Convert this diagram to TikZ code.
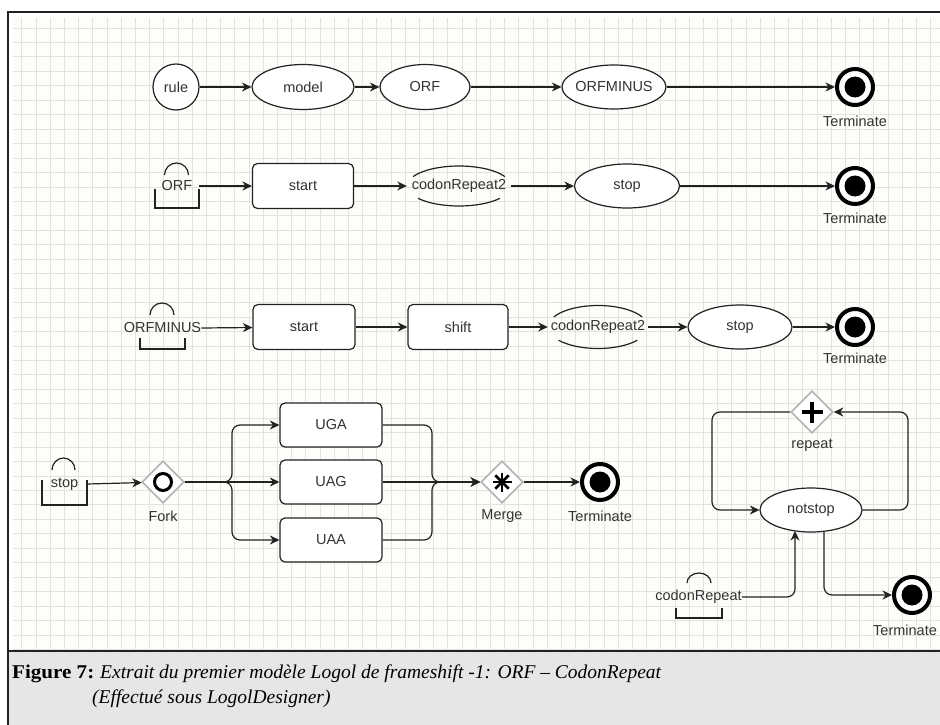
\documentclass[tikz,border=0pt]{standalone}
\usepackage{fontspec}
\setmainfont{Liberation Serif}
\newfontfamily\dsans{Liberation Sans}
\usetikzlibrary{arrows.meta,shapes.geometric}
\definecolor{gridc}{HTML}{E2E2DE}
\definecolor{gridbg}{HTML}{FDFDFA}
\definecolor{txt}{HTML}{333333}
\definecolor{capbg}{HTML}{E6E6E6}
\definecolor{lnc}{HTML}{222222}
\begin{document}
\begin{tikzpicture}[x=1pt,y=-1pt,
  lab/.style={font=\dsans\fontsize{14.5}{16}\selectfont, text=txt},
  ell/.style={ellipse, draw=lnc, line width=1.2pt, fill=white, minimum width=#1, minimum height=45pt, inner sep=0pt, lab},
  box/.style={rectangle, draw=lnc, line width=1.2pt, rounded corners=5pt, fill=white, minimum width=101pt, minimum height=45pt, inner sep=0pt, lab},
  arr/.style={draw=lnc, line width=1.2pt, -{Stealth[length=9.5pt,width=9pt,inset=3pt]}},
  ln/.style={draw=lnc, line width=1.2pt},
  term/.style={circle, draw=black, line width=4pt, fill=white, minimum size=36pt, inner sep=0pt,
     path picture={\fill[black] (path picture bounding box.center) circle (10.5pt);}},
  gate/.style={diamond, draw=black!30, line width=1.6pt, fill=white, minimum size=42pt, inner sep=0pt},
  callt/.style={lab, minimum width=#1, inner sep=0pt, minimum height=14pt},
  ghost/.style={ellipse, minimum width=#1, minimum height=42pt, inner sep=0pt},
  capf/.style={inner sep=0pt, font=\fontsize{19.5}{22}\selectfont},
]
\useasboundingbox (0,0) rectangle (940,725);
% background, grid, frame
\fill[white] (0,0) rectangle (940,725);
\fill[gridbg] (13,18) rectangle (940,650);
\foreach \i in {0,...,65} \draw[gridc, line width=0.8pt] ({21.7+\i*14.2},18) -- ({21.7+\i*14.2},650);
\foreach \j in {0,...,43} \draw[gridc, line width=0.8pt] (13,{28+\j*14.45}) -- (940,{28+\j*14.45});
\fill[capbg] (8,651) rectangle (940,725);
\draw[lnc, line width=1.5pt] (940,12) -- (8,12) -- (8,725);
\draw[lnc, line width=1.5pt] (8,651) -- (940,651);

% ---------- Row 1
\node[circle, draw=lnc, line width=1.2pt, fill=white, minimum size=46pt, inner sep=0pt, lab] (rule) at (176,87) {rule};
\node[ell=102pt] (model) at (303,87) {model};
\node[ell=90pt] (orf) at (425,87) {ORF};
\node[ell=104pt, minimum height=44pt, inner xsep=-6pt] (orfm) at (614,87) {ORFMINUS};
\node[term] (t1) at (855,87) {};
\node[lab] (t1l) at (855,121) {Terminate};
\draw[arr] (rule) -- (model);
\draw[arr] (model) -- (orf);
\draw[arr] (orf) -- (orfm);
\draw[arr] (orfm) -- (t1);

% ---------- Row 2
\draw[ln] (164.5,175) arc[start angle=180, end angle=360, x radius=12, y radius=12];
\draw[ln] (155,189) -- (155,208) -- (199,208) -- (199,189);
\node[callt=44pt] (orfc) at (177,186) {ORF};
\node[box] (start1) at (303,186) {start};
\node[ghost=104pt] (cr1) at (459,186) {};
\node[lab] (cr1l) at (cr1) {codonRepeat2};
\draw[ln] (cr1.center) ++(208:52 and 20) arc[start angle=208, end angle=332, x radius=52, y radius=20];
\draw[ln] (cr1.center) ++(38:52 and 20) arc[start angle=38, end angle=142, x radius=52, y radius=20];
\node[ell=105pt, minimum height=44pt] (stop1) at (627,186) {stop};
\node[term] (t2) at (855,186) {};
\node[lab] (t2l) at (855,218) {Terminate};
\draw[arr] (orfc.east) -- (start1);
\draw[arr] (start1) -- (cr1.west);
\draw[arr] (cr1.east) -- (stop1);
\draw[arr] (stop1) -- (t2);

% ---------- Row 3
\draw[ln] (150,315) arc[start angle=180, end angle=360, x radius=12, y radius=12];
\draw[ln] (140,338) -- (140,349) -- (185,349) -- (185,338);
\node[callt=45pt] (orfmc) at (162.5,328) {ORFMINUS};
\node[box, minimum width=102pt] (start2) at (304,327) {start};
\node[box, minimum width=100pt] (shift) at (458,327) {shift};
\node[ghost=100pt] (cr2) at (598,327) {};
\node[lab] (cr2l) at (cr2) {codonRepeat2};
\draw[ln] (cr2.center) ++(208:50 and 21.5) arc[start angle=208, end angle=332, x radius=50, y radius=21.5];
\draw[ln] (cr2.center) ++(38:50 and 21.5) arc[start angle=38, end angle=142, x radius=50, y radius=21.5];
\node[ell=104pt, minimum height=44pt] (stop2) at (740,327) {stop};
\node[term] (t3) at (855,327) {};
\node[lab] (t3l) at (855,358) {Terminate};
\draw[arr] (orfmc.east) -- (start2);
\draw[arr] (start2) -- (shift);
\draw[arr] (shift) -- (cr2.west);
\draw[arr] (cr2.east) -- (stop2);
\draw[arr] (stop2) -- (t3);

% ---------- Row 4
\draw[ln] (52,470) arc[start angle=180, end angle=360, x radius=11.5, y radius=12];
\draw[ln] (42,480) -- (42,505) -- (87,505) -- (87,480);
\node[callt=45pt] (stopc) at (64.5,484) {stop};
\node[gate] (fork) at (163,482) {};
\draw[line width=3pt, black] (fork.center) circle[radius=8.5];
\node[lab] (forkl) at (163,516) {Fork};
\node[box, minimum width=102pt, minimum height=44pt] (uga) at (331,425) {UGA};
\node[box, minimum width=102pt, minimum height=44pt] (uag) at (331,482) {UAG};
\node[box, minimum width=102pt, minimum height=44pt] (uaa) at (331,540) {UAA};
\node[gate] (merge) at (502,482) {};
\foreach \a in {0,45,90,135} \draw[line width=2.6pt, black] (merge.center) ++(\a:9.5) -- ++(\a+180:19);
\node[lab] (mergel) at (502,516) {Merge};
\node[term] (t4) at (600,482) {};
\node[lab] (t4l) at (600,516) {Terminate};
\coordinate (fsplit) at (232,482);
\coordinate (mjoin) at (432,482);
\draw[arr] (stopc.east) -- (fork);
\draw[arr, rounded corners=8pt] (fork.east) -- (fsplit) |- (uga);
\draw[arr] (fork.east) -- (uag);
\draw[arr, rounded corners=8pt] (fork.east) -- (fsplit) |- (uaa);
\draw[arr, rounded corners=8pt] (uga.east) -| (mjoin) -- (merge);
\draw[arr] (uag.east) -- (merge);
\draw[arr, rounded corners=8pt] (uaa.east) -| (mjoin) -- (merge);
\draw[arr] (merge) -- (t4);

% ---------- Right loop
\node[gate] (rep) at (812,412) {};
\draw[line width=3.5pt, black] (rep.center) ++(-10.5,0) -- ++(21,0);
\draw[line width=3.5pt, black] (rep.center) ++(0,-10.5) -- ++(0,21);
\node[lab] (repl) at (812,445) {repeat};
\node[ell=102pt, minimum height=44pt] (notstop) at (811,510) {notstop};
\coordinate (lc) at (712,412);
\coordinate (rc) at (908,510);
\draw[arr, rounded corners=8pt] (rep.west) -- (lc) |- (notstop.west);
\draw[arr, rounded corners=8pt] (notstop.east) -- (rc) |- (rep.east);
\draw[ln] (687,583) arc[start angle=180, end angle=360, x radius=12, y radius=10];
\draw[ln] (676,608) -- (676,618) -- (722,618) -- (722,608);
\node[callt=84pt] (crc) at (698.5,597) {codonRepeat};
\node[term] (t5) at (912,595) {};
\node[lab] (t5l) at (905,630) {Terminate};
\coordinate (nsin) at (795,531);
\coordinate (nsout) at (824,531);
\draw[arr, rounded corners=8pt] (crc.east) -| (nsin);
\draw[arr, rounded corners=8pt] (nsout) |- (t5);

% ---------- Caption
\node[capf, anchor=base west] (cap0) at (12,678) {\scalebox{1.08}[1]{\textbf{Figure 7:}}};
\node[capf, anchor=base west] (cap1) at (100,678)
  {\textit{Extrait du premier modèle Logol de frameshift -1: ORF – CodonRepeat}};
\node[capf, anchor=base west] (cap2) at (92,703)
  {\textit{(Effectué sous LogolDesigner)}};
\end{tikzpicture}
\end{document}
